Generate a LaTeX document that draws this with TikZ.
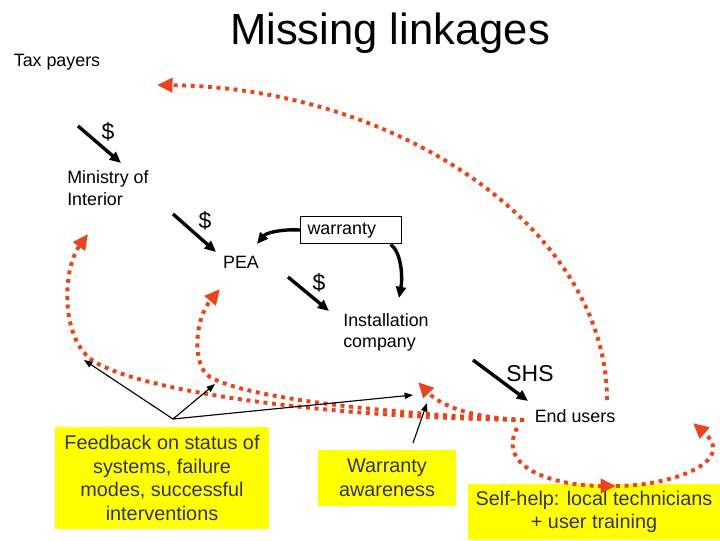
\documentclass[tikz,border=0pt]{standalone}
\usepackage{fontspec}
\setmainfont{Liberation Sans}
\usetikzlibrary{arrows.meta}
\definecolor{cred}{HTML}{E8441E}
\definecolor{cyellow}{HTML}{FFFF00}
\definecolor{cnavy}{HTML}{333366}

\begin{document}
\begin{tikzpicture}[x=0.025cm, y=-0.025cm,
  lbl/.style={inner sep=0pt, font=\fontsize{12.7}{15.1}\selectfont},
  cash/.style={inner sep=0pt, font=\fontsize{16.3}{19.5}\selectfont},
  money/.style={-{Triangle[length=8pt,width=7pt]}, line width=2.4pt},
  pointer/.style={-{Triangle[length=6pt,width=4.5pt]}, line width=0.8pt},
  missing/.style={cred, line width=2.8pt, dash pattern=on 2.8pt off 3.3pt,
    -{Triangle[length=11pt,width=10pt]}},
  note/.style={fill=cyellow, text=cnavy, align=center, inner sep=0pt,
    font=\fontsize{14.1}{16.8}\selectfont},
  wbox/.style={draw, line width=0.7pt, anchor=west, text width=62pt, align=left,
    inner xsep=5pt, inner ysep=3.15pt, text height=10pt, text depth=3.5pt,
    font=\fontsize{12.7}{15.2}\selectfont}]
  \useasboundingbox (0,0) rectangle (720,540);

  % Feedback boxes
  \node[note, minimum width=152pt, minimum height=73pt] (feedback) at (162,478)
    {Feedback on status of\\systems, failure\\modes, successful\\interventions};
  \node[note, minimum width=97.8pt, minimum height=39.7pt] (aware) at (387,478)
    {Warranty\\awareness};
  \node[note, minimum width=178.6pt, minimum height=39.7pt] (selfhelp) at (594,512)
    {Self-help: local technicians\\+ user training};

  % Actors
  \node[font=\fontsize{31}{37}\selectfont] (title) at (390,33) {Missing linkages};
  \node[lbl] (tax) at (57,62) {Tax payers};
  \node[lbl, anchor=west, align=left] (ministry) at (67,188) {Ministry of\\Interior};
  \node[lbl] (pea) at (241,262) {PEA};
  \node[wbox] (warranty) at (300,230) {warranty};
  \node[lbl, anchor=west, align=left] (install) at (343,332) {Installation\\company};
  \node[cash] (shs) at (530,374) {SHS};
  \node[lbl] (users) at (575,416) {End users};

  % Money flows
  \node[cash] (d1) at (108,132) {\$};
  \node[cash] (d2) at (205,221) {\$};
  \node[cash] (d3) at (319,283) {\$};
  \coordinate (s1) at (78,126);  \coordinate (e1) at (121,163);
  \coordinate (s2) at (173,214); \coordinate (e2) at (216,252);
  \coordinate (s3) at (288,277); \coordinate (e3) at (329,311);
  \coordinate (s4) at (473,360); \coordinate (e4) at (528,401);
  \foreach \n in {1,...,4}{
    \draw[money] (s\n) -- (e\n);
  }
  \coordinate (wp) at (257,244);
  \coordinate (wi) at (399,298);
  \draw[money] (warranty.west) .. controls (280,229) and (266,233) .. (wp);
  \draw[money] (warranty.-20) .. controls (401,252) and (403,276) .. (wi);

  % Missing links
  \coordinate (eu) at (524,420);
  \coordinate (eu2) at (517,428);
  \coordinate (back) at (607,400);
  \coordinate (top) at (157,85);
  \coordinate (mi) at (88,234);
  \coordinate (pe) at (220,289);
  \coordinate (wa) at (418,382);
  \coordinate (sh) at (616,486);
  \coordinate (hm) at (693,423);
  \draw[missing] (back) .. controls (607,230) and (400,88) .. (top);
  \draw[missing] (eu) .. controls (350,418) and (150,395) .. (95,362)
    .. controls (60,341) and (62,270) .. (mi);
  \draw[missing] (eu) .. controls (400,414) and (250,400) .. (210,377)
    .. controls (192,366) and (194,320) .. (pe);
  \draw[missing] (eu) .. controls (470,418) and (440,405) .. (wa);
  \draw[missing] (eu2) .. controls (495,470) and (560,486) .. (sh);
  \draw[missing] (sh) .. controls (670,486) and (738,462) .. (hm);

  % Feedback pointers
  \coordinate (fb) at (173,419);
  \coordinate (f1) at (84,360);
  \coordinate (f2) at (215,384);
  \coordinate (f3) at (413,395);
  \coordinate (wb) at (413,443);
  \coordinate (wt) at (427,403);
  \foreach \t in {f1,f2,f3}{
    \draw[pointer] (fb) -- (\t);
  }
  \draw[pointer] (wb) -- (wt);
\end{tikzpicture}
\end{document}
